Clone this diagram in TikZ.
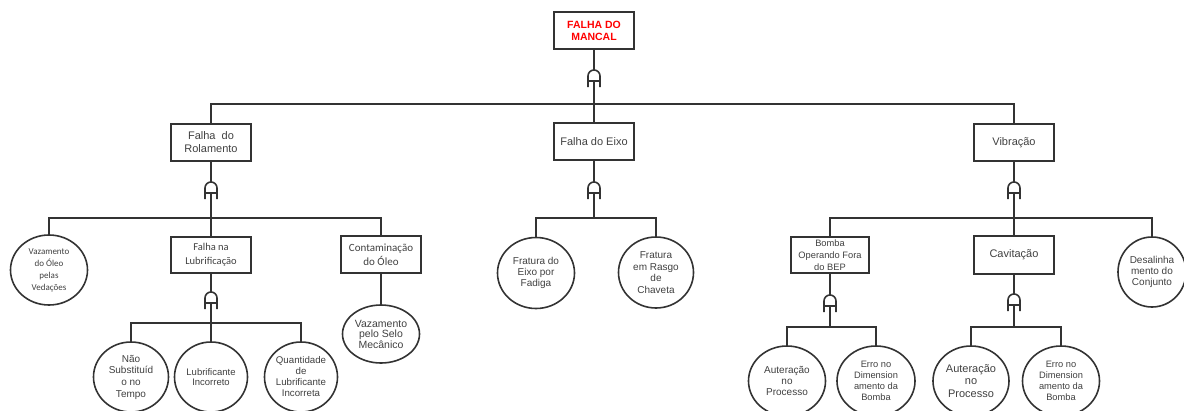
\documentclass[tikz,border=0pt]{standalone}
\usepackage{fontspec}
\setmainfont{Liberation Sans}
\newfontfamily\calibri{Carlito}
\usetikzlibrary{shapes.geometric}

% font size / baseline skip shorthand
\newcommand\fs[2]{\fontsize{#1}{#2}\selectfont}

% AND gate symbol drawn over an empty gate node
\newcommand\andgate[1]{%
  \draw[ln] (#1.south west) -- ([yshift=-6pt]#1.north west)
     arc[start angle=180, end angle=0, radius=6pt] -- (#1.south east);
  \draw[ln] ([yshift=6pt]#1.south west) -- ([yshift=6pt]#1.south east);
}

\begin{document}
\begin{tikzpicture}[x=1pt, y=-1pt,
  ln/.style={draw=black!80, line width=1.6pt},
  box/.style={rectangle, draw=black!80, line width=1.6pt, inner sep=0pt,
              align=center, text=black!75, minimum width=80pt, minimum height=37pt},
  evt/.style={ellipse, draw=black!80, line width=1.6pt, inner sep=0pt,
              align=center, text=black!75, minimum width=77pt, minimum height=70pt},
  gatebox/.style={rectangle, inner sep=0pt, outer sep=0pt,
                  minimum width=12pt, minimum height=17pt},
]
\clip (0,0) rectangle (1184,410);

% ---- top event
\node[box, text=red, font=\bfseries\fs{10.5}{12}] (top) at (594,30.5) {FALHA DO\\MANCAL};
\node[gatebox] (g0) at (594,78.5) {};
\coordinate (j0) at (594,104);

% ---- first level
\node[box, font=\fs{11}{13}] (rol)  at (211,142.5) {Falha~ do\\Rolamento};
\node[box, font=\fs{11}{13}] (eixo) at (594,141.5) {Falha do Eixo};
\node[box, font=\fs{11}{13}] (vib)  at (1014,142.5) {Vibração};

\node[gatebox] (g1) at (211,190.5) {};
\node[gatebox] (g2) at (594,190.5) {};
\node[gatebox] (g3) at (1014,190.5) {};
\coordinate (j1) at (211,218);
\coordinate (j2) at (594,218);
\coordinate (j3) at (1014,218);

% ---- second level: bearing
\node[evt, font=\calibri\fs{9}{12}] (vaz) at (49,270) {Vazamento\\do Óleo\\pelas\\Vedações};
\node[box, minimum height=36pt, font=\calibri\fs{10.5}{14}] (lub) at (211,255) {Falha na\\Lubrificação};
\node[box, font=\calibri\fs{11}{14.5}] (cont) at (381,254.5) {Contaminação\\do Óleo};
\node[evt, minimum height=58pt, font=\fs{10.5}{10.5}] (selo) at (381,334) {Vazamento\\pelo Selo\\Mecânico};

\node[gatebox] (g4) at (211,300.5) {};
\coordinate (j4) at (211,323);
\node[evt, minimum width=75pt, font=\fs{10}{11.7}] (nao) at (131,377) {Não\\Substituíd\\o no\\Tempo};
\node[evt, minimum width=73pt, font=\fs{9.5}{10.5}] (linc) at (211,377) {Lubrificante\\Incorreto};
\node[evt, minimum width=73pt, font=\fs{9.7}{11}] (quant) at (301,377) {Quantidade\\de\\Lubrificante\\Incorreta};

% ---- second level: shaft
\node[evt, minimum height=71pt, font=\fs{10}{11}] (fr1) at (536,273) {Fratura do\\Eixo por\\Fadiga};
\node[evt, minimum width=75pt, minimum height=71pt, font=\fs{10}{11.5}] (fr2) at (656,272.5) {Fratura\\em Rasgo\\de\\Chaveta};

% ---- second level: vibration
\node[box, minimum width=78pt, minimum height=36pt, font=\fs{9.3}{12}] (bep) at (830,255) {Bomba\\Operando Fora\\do BEP};
\node[box, minimum height=38pt, font=\fs{11}{13}] (cav) at (1014,255) {Cavitação};
\node[evt, minimum width=68pt, font=\fs{10}{11.3}] (des) at (1152,272) {Desalinha\\mento do\\Conjunto};

\node[gatebox] (g5) at (830,303.5) {};
\node[gatebox] (g6) at (1014,302.5) {};
\coordinate (j5) at (830,327);
\coordinate (j6) at (1014,327);

\node[evt, font=\fs{10}{11}] (aut1) at (787,381) {Auteração\\no\\Processo};
\node[evt, minimum width=78pt, font=\fs{9.3}{10.8}] (err1) at (876,381) {Erro no\\Dimension\\amento da\\Bomba};
\node[evt, minimum width=76pt, font=\fs{11}{12.5}] (aut2) at (971,381) {Auteração\\no\\Processo};
\node[evt, font=\fs{9.3}{10.8}] (err2) at (1061,381) {Erro no\\Dimension\\amento da\\Bomba};

% ---- gates
\andgate{g0}\andgate{g1}\andgate{g2}\andgate{g3}
\andgate{g4}\andgate{g5}\andgate{g6}

% ---- connectors
\draw[ln] (top.south) -- (g0.north);
\draw[ln] ([yshift=6pt]g0.south) -- (j0);
\draw[ln] (j0) -| (rol.north);
\draw[ln] (j0) -- (eixo.north);
\draw[ln] (j0) -| (vib.north);

\draw[ln] (rol.south) -- (g1.north);
\draw[ln] ([yshift=6pt]g1.south) -- (j1);
\draw[ln] (j1) -| (vaz.north);
\draw[ln] (j1) -- (lub.north);
\draw[ln] (j1) -| (cont.north);
\draw[ln] (cont.south) -- (selo.north);

\draw[ln] (lub.south) -- (g4.north);
\draw[ln] ([yshift=6pt]g4.south) -- (j4);
\draw[ln] (j4) -| (nao.north);
\draw[ln] (j4) -- (linc.north);
\draw[ln] (j4) -| (quant.north);

\draw[ln] (eixo.south) -- (g2.north);
\draw[ln] ([yshift=6pt]g2.south) -- (j2);
\draw[ln] (j2) -| (fr1.north);
\draw[ln] (j2) -| (fr2.north);

\draw[ln] (vib.south) -- (g3.north);
\draw[ln] ([yshift=6pt]g3.south) -- (j3);
\draw[ln] (j3) -| (bep.north);
\draw[ln] (j3) -- (cav.north);
\draw[ln] (j3) -| (des.north);

\draw[ln] (bep.south) -- (g5.north);
\draw[ln] ([yshift=6pt]g5.south) -- (j5);
\draw[ln] (j5) -| (aut1.north);
\draw[ln] (j5) -| (err1.north);

\draw[ln] (cav.south) -- (g6.north);
\draw[ln] ([yshift=6pt]g6.south) -- (j6);
\draw[ln] (j6) -| (aut2.north);
\draw[ln] (j6) -| (err2.north);
\end{tikzpicture}
\end{document}
